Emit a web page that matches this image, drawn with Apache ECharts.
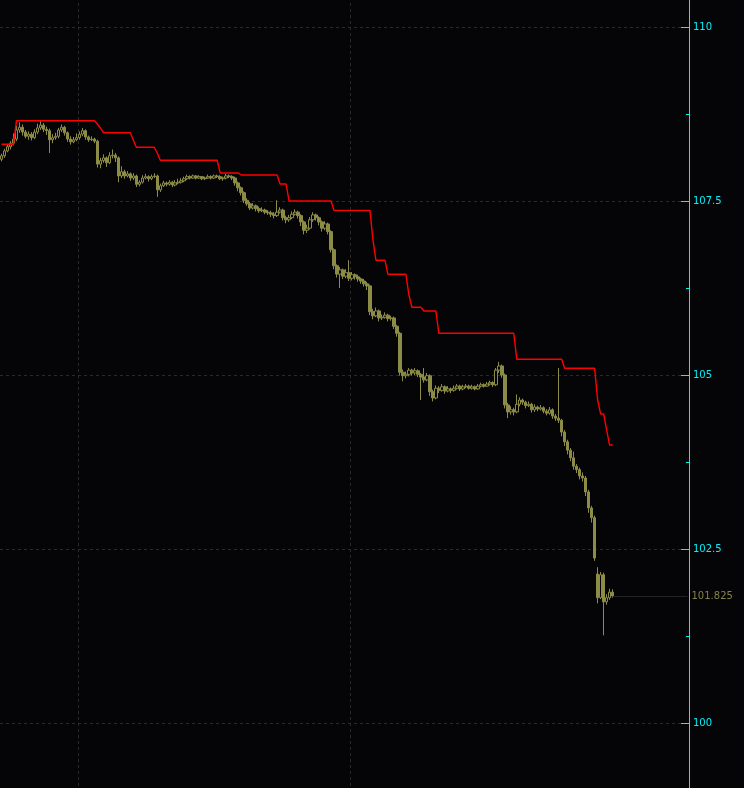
<!DOCTYPE html>
<html>
<head>
<meta charset="utf-8">
<script src="https://cdn.jsdelivr.net/npm/echarts@6/dist/echarts.min.js"></script>
<style>
html,body{margin:0;padding:0;background:#050507;}
#c{width:744px;height:788px;}
</style>
</head>
<body>
<div id="c"></div>
<script>
// Bar slots on the time axis (last 25 slots are empty space before the price scale)
const slotCount = 230;
const categories = Array.from({length: slotCount}, (_, i) => String(i));

// OHLC per bar
const opens = [
108.10,108.15,108.22,108.28,108.33,108.39,108.52,108.56,108.49,108.43,
108.46,108.41,108.49,108.55,108.59,108.53,108.51,108.38,108.41,108.43,
108.52,108.56,108.48,108.39,108.35,108.38,108.41,108.46,108.51,108.42,
108.38,108.39,108.36,108.03,108.08,108.12,108.05,108.15,108.16,108.12,
107.86,107.92,107.86,107.89,107.83,107.86,107.74,107.77,107.83,107.85,
107.82,107.85,107.86,107.66,107.72,107.76,107.74,107.77,107.73,107.76,
107.77,107.79,107.82,107.85,107.83,107.86,107.83,107.85,107.82,107.83,
107.85,107.83,107.86,107.85,107.82,107.83,107.86,107.85,107.83,107.76,
107.69,107.62,107.51,107.46,107.40,107.43,107.39,107.36,107.37,107.34,
107.33,107.31,107.29,107.34,107.37,107.26,107.23,107.26,107.31,107.34,
107.29,107.20,107.08,107.11,107.23,107.30,107.26,107.20,107.11,107.17,
107.06,106.80,106.57,106.45,106.51,106.42,106.47,106.39,106.44,106.41,
106.38,106.35,106.31,106.28,105.91,105.85,105.92,105.82,105.83,105.86,
105.81,105.82,105.70,105.60,105.04,104.99,105.01,105.07,105.03,105.06,
105.01,104.97,104.93,104.99,104.76,104.67,104.81,104.78,104.83,104.77,
104.80,104.78,104.81,104.84,104.80,104.83,104.84,104.81,104.83,104.80,
104.84,104.86,104.84,104.87,104.89,104.86,105.07,105.13,105.00,104.57,
104.47,104.50,104.47,104.58,104.64,104.61,104.56,104.58,104.50,104.54,
104.51,104.53,104.48,104.45,104.50,104.41,104.38,104.35,104.18,104.04,
103.92,103.81,103.69,103.64,103.55,103.52,103.32,103.09,102.95,102.14,
101.80,102.13,101.74,101.80,101.88
];
const closes = [
108.15,108.22,108.28,108.33,108.39,108.52,108.56,108.49,108.43,108.46,
108.41,108.49,108.55,108.59,108.53,108.51,108.38,108.41,108.43,108.52,
108.56,108.48,108.39,108.35,108.38,108.41,108.46,108.51,108.42,108.38,
108.39,108.36,108.03,108.08,108.12,108.05,108.15,108.16,108.12,107.86,
107.92,107.86,107.89,107.83,107.86,107.74,107.77,107.83,107.85,107.82,
107.85,107.86,107.66,107.72,107.76,107.74,107.77,107.73,107.76,107.77,
107.79,107.82,107.85,107.83,107.86,107.83,107.85,107.82,107.83,107.85,
107.83,107.86,107.85,107.82,107.83,107.86,107.85,107.83,107.76,107.69,
107.62,107.51,107.46,107.40,107.43,107.39,107.36,107.37,107.34,107.33,
107.31,107.29,107.34,107.37,107.26,107.23,107.26,107.31,107.34,107.29,
107.20,107.08,107.11,107.23,107.30,107.26,107.20,107.11,107.17,107.06,
106.80,106.57,106.45,106.51,106.42,106.47,106.39,106.44,106.41,106.38,
106.35,106.31,106.28,105.91,105.85,105.92,105.82,105.83,105.86,105.81,
105.82,105.70,105.60,105.04,104.99,105.01,105.07,105.03,105.06,105.01,
104.97,104.93,104.99,104.76,104.67,104.81,104.78,104.83,104.77,104.80,
104.78,104.81,104.84,104.80,104.83,104.84,104.81,104.83,104.80,104.84,
104.86,104.84,104.87,104.89,104.86,105.07,105.13,105.00,104.57,104.47,
104.50,104.47,104.58,104.64,104.61,104.56,104.58,104.50,104.54,104.51,
104.53,104.48,104.45,104.50,104.41,104.38,104.35,104.18,104.04,103.92,
103.81,103.69,103.64,103.55,103.52,103.32,103.09,102.95,102.37,101.80,
102.13,101.74,101.80,101.88,101.825
];
const highs = [
108.18,108.25,108.32,108.36,108.47,108.58,108.63,108.60,108.52,108.50,
108.49,108.53,108.61,108.66,108.62,108.57,108.54,108.46,108.48,108.55,
108.60,108.58,108.50,108.43,108.42,108.47,108.50,108.55,108.53,108.44,
108.43,108.41,108.38,108.12,108.17,108.14,108.20,108.24,108.19,108.14,
108.00,107.95,107.93,107.91,107.90,107.88,107.80,107.87,107.89,107.87,
107.88,107.90,107.88,107.75,107.79,107.78,107.80,107.79,107.80,107.82,
107.83,107.85,107.88,107.87,107.88,107.87,107.87,107.86,107.85,107.88,
107.87,107.88,107.88,107.87,107.85,107.89,107.88,107.87,107.85,107.78,
107.71,107.64,107.54,107.49,107.47,107.45,107.42,107.41,107.39,107.37,
107.36,107.34,107.51,107.41,107.39,107.29,107.30,107.35,107.38,107.36,
107.31,107.22,107.16,107.27,107.34,107.32,107.28,107.22,107.21,107.19,
107.08,106.82,106.59,106.55,106.53,106.52,106.65,106.48,106.46,106.44,
106.40,106.38,106.34,106.30,105.95,105.97,105.94,105.87,105.90,105.88,
105.85,105.84,105.72,105.62,105.08,105.05,105.10,105.09,105.10,105.08,
105.03,105.10,105.03,105.01,104.79,104.85,104.84,104.87,104.85,104.84,
104.82,104.85,104.87,104.86,104.86,104.87,104.86,104.86,104.85,104.87,
104.89,104.88,104.90,104.92,104.91,105.10,105.19,105.15,105.02,104.60,
104.55,104.53,104.72,104.68,104.66,104.63,104.62,104.60,104.58,104.56,
104.57,104.55,104.51,104.54,104.52,104.44,105.10,104.37,104.21,104.07,
103.95,103.90,103.72,103.67,103.60,103.55,103.35,103.12,102.98,102.24,
102.17,102.16,101.85,101.93,101.92
];
const lows = [
108.07,108.12,108.20,108.24,108.30,108.36,108.48,108.44,108.40,108.38,
108.37,108.39,108.46,108.52,108.49,108.45,108.19,108.33,108.38,108.40,
108.49,108.44,108.35,108.31,108.33,108.36,108.38,108.43,108.38,108.35,
108.36,108.33,107.98,107.97,108.05,107.99,108.03,108.11,108.06,107.77,
107.83,107.82,107.84,107.79,107.80,107.70,107.71,107.75,107.81,107.78,
107.80,107.83,107.56,107.63,107.70,107.71,107.72,107.70,107.71,107.74,
107.75,107.77,107.80,107.81,107.82,107.81,107.82,107.80,107.80,107.82,
107.81,107.82,107.83,107.80,107.79,107.81,107.83,107.80,107.72,107.64,
107.58,107.47,107.43,107.37,107.38,107.35,107.33,107.34,107.31,107.30,
107.27,107.25,107.27,107.32,107.22,107.18,107.20,107.24,107.29,107.25,
107.14,107.02,107.04,107.09,107.20,107.22,107.15,107.06,107.08,107.02,
106.76,106.52,106.40,106.25,106.38,106.39,106.35,106.36,106.37,106.34,
106.31,106.27,106.22,105.86,105.80,105.83,105.77,105.79,105.81,105.77,
105.78,105.66,105.55,104.99,104.91,104.95,104.98,104.99,105.00,104.97,
104.64,104.89,104.91,104.70,104.62,104.65,104.74,104.76,104.73,104.75,
104.74,104.76,104.79,104.77,104.78,104.81,104.79,104.79,104.78,104.79,
104.82,104.82,104.83,104.85,104.83,104.84,105.03,104.96,104.52,104.38,
104.43,104.42,104.45,104.55,104.57,104.52,104.54,104.46,104.47,104.48,
104.49,104.45,104.42,104.43,104.37,104.34,104.31,104.12,103.98,103.86,
103.76,103.64,103.59,103.50,103.47,103.26,103.02,102.88,102.33,101.72,
101.78,101.26,101.70,101.77,101.80
];

// Trailing stop level (red step line), one value per bar
const stopLevel = [
108.315,108.315,108.315,108.315,108.315,108.654,108.654,108.654,108.654,108.654,
108.654,108.654,108.654,108.654,108.654,108.654,108.654,108.654,108.654,108.654,
108.654,108.654,108.654,108.654,108.654,108.654,108.654,108.654,108.654,108.654,
108.654,108.654,108.606,108.549,108.481,108.481,108.481,108.481,108.481,108.481,
108.481,108.481,108.481,108.481,108.376,108.272,108.272,108.272,108.272,108.272,
108.272,108.272,108.190,108.085,108.085,108.085,108.085,108.085,108.085,108.085,
108.085,108.085,108.085,108.085,108.085,108.085,108.085,108.085,108.085,108.085,
108.085,108.085,108.085,107.902,107.902,107.902,107.902,107.902,107.902,107.902,
107.874,107.874,107.874,107.874,107.874,107.874,107.874,107.874,107.874,107.874,
107.874,107.874,107.874,107.744,107.744,107.744,107.500,107.500,107.500,107.500,
107.500,107.500,107.500,107.500,107.500,107.500,107.500,107.500,107.500,107.500,
107.500,107.366,107.366,107.366,107.366,107.366,107.366,107.366,107.366,107.366,
107.366,107.366,107.366,107.366,106.940,106.648,106.648,106.648,106.648,106.447,
106.447,106.447,106.447,106.447,106.447,106.447,106.149,105.973,105.973,105.973,
105.973,105.920,105.920,105.920,105.920,105.920,105.599,105.599,105.599,105.599,
105.599,105.599,105.599,105.599,105.599,105.599,105.599,105.599,105.599,105.599,
105.599,105.599,105.599,105.599,105.599,105.599,105.599,105.599,105.599,105.599,
105.599,105.599,105.226,105.226,105.226,105.226,105.226,105.226,105.226,105.226,
105.226,105.226,105.226,105.226,105.226,105.226,105.226,105.226,105.096,105.096,
105.096,105.096,105.096,105.096,105.096,105.096,105.096,105.096,105.096,104.641,
104.440,104.440,104.210,103.994,103.994
];

// Price scale
const yMin = 97.5, yMax = 112.5, yStep = 2.5;
// Vertical separators (bar slots)
const separatorSlots = [26, 117];

const BG = '#050507';
const OLIVE = '#8c8c46';
const CYAN = '#00f2fa';
const FONT = 'DejaVu Sans';

const candleData = opens.map((o, i) => [o, closes[i], lows[i], highs[i]]);
const lastIdx = closes.length - 1;
const lastPrice = closes[lastIdx];

const chart = echarts.init(document.getElementById('c'), null, {renderer: 'canvas'});
chart.setOption({
  animation: false,
  backgroundColor: BG,
  grid: {left: 0, right: 55, top: -147, height: 1044, containLabel: false, outerBoundsMode: 'none'},
  xAxis: {
    type: 'category',
    data: categories,
    boundaryGap: true,
    axisLine: {show: false},
    axisTick: {show: false},
    axisLabel: {show: false},
    splitLine: {
      show: true,
      interval: (idx) => separatorSlots.indexOf(idx) >= 0,
      lineStyle: {color: '#2a2a2a', type: [3, 3], width: 1}
    }
  },
  yAxis: {
    type: 'value',
    position: 'right',
    min: yMin,
    max: yMax,
    interval: yStep,
    axisLine: {show: true, lineStyle: {color: CYAN, width: 1}},
    axisTick: {show: true, inside: true, length: 8, lineStyle: {color: CYAN, width: 1}},
    minorTick: {show: true, splitNumber: 2, length: 3, lineStyle: {color: CYAN, width: 1}},
    axisLabel: {
      color: CYAN, fontFamily: FONT, fontSize: 10, margin: 4,
      formatter: (v) => String(v)
    },
    splitLine: {show: true, lineStyle: {color: '#2a2a2a', type: [3, 3], width: 1}}
  },
  series: [
    {
      type: 'candlestick',
      data: candleData,
      barWidth: 3,
      itemStyle: {
        color: BG,
        color0: OLIVE,
        borderColor: OLIVE,
        borderColor0: OLIVE,
        borderWidth: 1
      },
      markLine: {
        silent: true,
        symbol: ['none', 'none'],
        animation: false,
        lineStyle: {color: '#222222', width: 1, type: 'solid'},
        label: {
          show: true,
          position: 'end',
          distance: 4,
          color: '#82824a',
          fontFamily: FONT,
          fontSize: 10,
          formatter: () => lastPrice.toFixed(3)
        },
        data: [[
          {coord: [lastIdx, lastPrice]},
          {coord: [slotCount - 1, lastPrice]}
        ]]
      }
    },
    {
      type: 'line',
      data: stopLevel,
      symbol: 'none',
      lineStyle: {color: '#ff0000', width: 1.4},
      itemStyle: {color: '#ff0000'},
      z: 3
    }
  ]
});
</script>
</body>
</html>
